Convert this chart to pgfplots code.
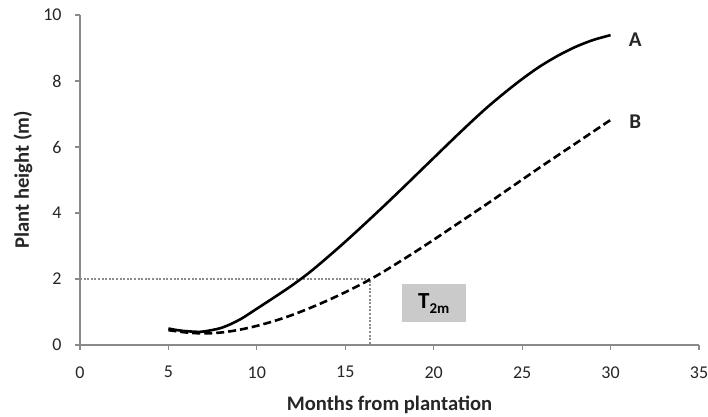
\documentclass[border=0pt]{standalone}
\usepackage{pgfplots}
\pgfplotsset{compat=1.18}
\usepackage{fontspec}
\setmainfont{Carlito}

\definecolor{axisgray}{HTML}{8A8A8A}
\definecolor{refgray}{HTML}{8C8C8C}
\definecolor{boxgray}{HTML}{CACACA}

% Height growth of the two plant groups
\pgfplotstableread{
x    y
5.0  0.50
5.5  0.45
6.0  0.42
6.6  0.40
7.0  0.41
8.0  0.52
9.0  0.76
10.0 1.10
11.0 1.45
12.0 1.81
13.0 2.21
14.0 2.66
15.0 3.13
16.0 3.62
17.0 4.12
18.0 4.63
19.0 5.15
20.0 5.67
21.0 6.19
22.0 6.70
23.0 7.19
24.0 7.64
25.0 8.06
26.0 8.44
27.0 8.76
28.0 9.03
29.0 9.24
30.0 9.39
}\curveA

\pgfplotstableread{
x    y
5.0  0.45
6.0  0.38
7.0  0.35
8.0  0.38
9.0  0.46
10.0 0.58
11.0 0.73
12.0 0.91
13.0 1.12
14.0 1.35
15.0 1.60
16.0 1.87
17.0 2.17
18.0 2.50
19.0 2.84
20.0 3.19
21.0 3.55
22.0 3.91
23.0 4.27
24.0 4.64
25.0 5.01
26.0 5.38
27.0 5.74
28.0 6.10
29.0 6.46
30.0 6.82
}\curveB

\begin{document}
\begin{tikzpicture}
\begin{axis}[
  scale only axis,
  width=309.5pt, height=165pt,
  xmin=0, xmax=35, ymin=0, ymax=10,
  xtick={0,5,...,35}, ytick={0,2,...,10},
  axis lines=left,
  axis line style={draw=axisgray, line width=0.6pt, -},
  tick align=outside,
  major tick length=2.5pt,
  tick style={draw=axisgray, line width=0.6pt},
  /pgf/number format/assume math mode=true,
  tick label style={font=\fontsize{9}{10}\selectfont, text=black!85},
  yticklabel style={anchor=east, inner sep=0pt},
  xticklabel style={anchor=north, inner sep=0pt},
  yticklabel shift=6.5pt,
  xticklabel shift=8pt,
  xlabel={Months from plantation},
  ylabel={Plant height (m)},
  label style={font=\bfseries\fontsize{10.3}{12}\selectfont, text=black!85},
  xlabel style={at={(axis description cs:0.5,-0.182)}, anchor=center},
  ylabel style={at={(axis description cs:-0.092,0.5)}, anchor=center, rotate=0},
  clip=false,
]
  % T_2m marker box
  \addplot[draw=none, fill=boxgray] coordinates {(18.2,0.69) (21.8,0.69) (21.8,1.85) (18.2,1.85)} -- cycle;
  \node[font=\bfseries\fontsize{11.5}{12}\selectfont] at (axis cs:20,1.27)
    {T\raisebox{-0.45ex}{\fontsize{7.5}{8}\selectfont 2m}};

  % reference lines for the 2 m threshold
  \addplot[refgray, line width=0.6pt, dash pattern=on 1pt off 0.8pt] coordinates {(0,2) (16.4,2) (16.4,0)};

  \addplot[black, line width=1.3pt, smooth] table[x=x, y=y] {\curveA};
  \addplot[black, line width=1.3pt, smooth, dash pattern=on 4pt off 2pt] table[x=x, y=y] {\curveB};

  \node[font=\bfseries\fontsize{10.5}{12}\selectfont, text=black!85] at (axis cs:31.4,9.24) {A};
  \node[font=\bfseries\fontsize{10.5}{12}\selectfont, text=black!85] at (axis cs:31.4,6.76) {B};

  \coordinate (ll) at (rel axis cs:0,0);
  \coordinate (ur) at (rel axis cs:1,1);
\end{axis}
\pgfresetboundingbox
\path ([shift={(-40pt,-35.5pt)}]ll) rectangle ([shift={(4.5pt,7.5pt)}]ur);
\end{tikzpicture}
\end{document}
